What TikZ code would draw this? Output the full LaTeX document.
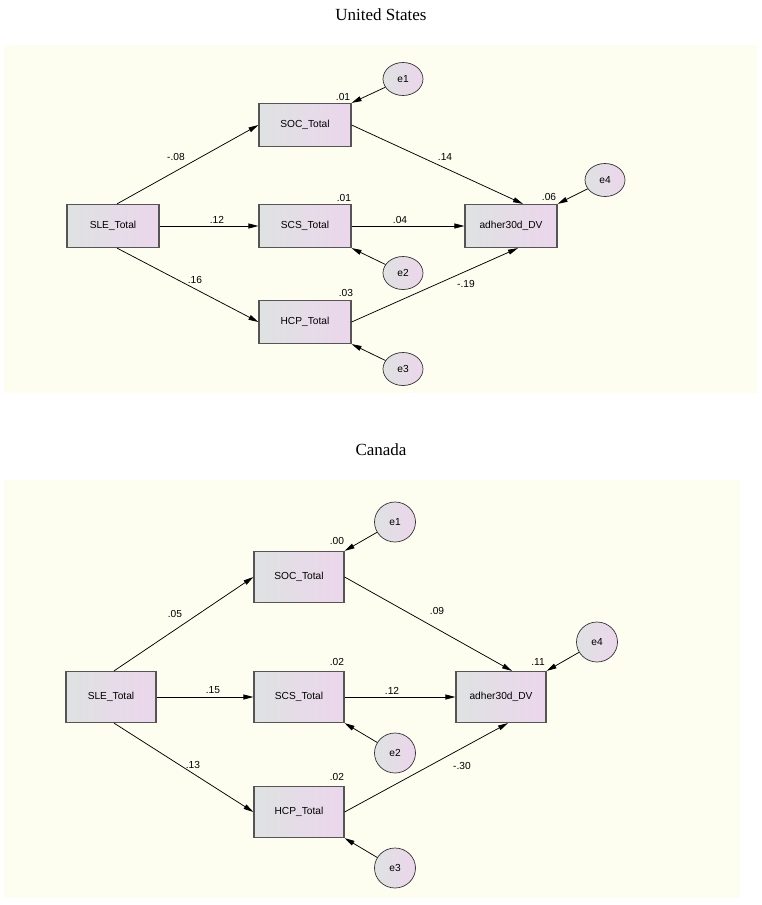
\documentclass[tikz,border=0pt]{standalone}
\usepackage{fontspec}
\setmainfont{Liberation Serif}
\newfontfamily\amosfont{Liberation Sans}
\definecolor{amosBg}{RGB}{254,254,240}
\definecolor{amosGrey}{RGB}{222,226,226}
\definecolor{amosPink}{RGB}{236,214,236}
\definecolor{amosEdge}{RGB}{85,85,85}
\usetikzlibrary{arrows.meta,shapes.geometric,calc}

\begin{document}
\begin{tikzpicture}[x=1pt, y=-1pt,
    obs/.style={rectangle, draw=amosEdge, line width=1.2pt, left color=amosGrey,
                right color=amosPink, font=\amosfont\fontsize{10.2}{12}\selectfont, inner sep=0pt},
    obsA/.style={obs, minimum width=92pt, minimum height=43pt},
    obsB/.style={obs, minimum width=90pt, minimum height=51pt},
    err/.style={ellipse, draw=black!80, line width=0.7pt, left color=amosGrey,
                right color=amosPink, font=\amosfont\fontsize{10.2}{12}\selectfont, inner sep=0pt},
    errA/.style={err, minimum width=40pt, minimum height=33pt},
    errB/.style={err, minimum width=41pt, minimum height=40pt},
    val/.style={font=\amosfont\fontsize{10.2}{12}\selectfont, inner sep=0pt},
    arr/.style={-{Triangle[length=10pt,width=5pt]}, line width=0.75pt},
    ttl/.style={font=\fontsize{17}{20}\selectfont, inner sep=0pt}
  ]
  \useasboundingbox (0,0) rectangle (762,905);
  \fill[amosBg] (4,45) rectangle (757,393);
  \fill[amosBg] (4,480) rectangle (740,898);

  % United States
  \node[ttl] (usTitle) at (381,15) {United States};
  \node[obsA] (usSle) at (113,226) {SLE\_Total};
  \node[obsA] (usSoc) at (305,125) {SOC\_Total};
  \node[obsA] (usScs) at (305,226) {SCS\_Total};
  \node[obsA] (usHcp) at (305,322) {HCP\_Total};
  \node[obsA] (usAdh) at (511,226) {adher30d\_DV};
  \node[errA] (usE1) at (403,79) {e1};
  \node[errA] (usE2) at (403,273) {e2};
  \node[errA] (usE3) at (403,369) {e3};
  \node[errA] (usE4) at (605,180) {e4};

  \draw[arr] ($(usSle.north)+(4,0)$) -- (usSoc.west);
  \draw[arr] (usSle.east) -- (usScs.west);
  \draw[arr] ($(usSle.south)+(4,0)$) -- (usHcp.west);
  \draw[arr] (usSoc.east) -- ($(usAdh.north)+(12,0)$);
  \draw[arr] (usScs.east) -- (usAdh.west);
  \draw[arr] (usHcp.east) -- ($(usAdh.south)+(7,0)$);
  \draw[arr] (usE1) -- (usSoc.north east);
  \draw[arr] (usE2) -- (usScs.south east);
  \draw[arr] (usE3) -- (usHcp.south east);
  \draw[arr] (usE4) -- (usAdh.north east);

  \node[val] (usR1) at (343,97) {.01};
  \node[val] (usR2) at (344,198) {.01};
  \node[val] (usR3) at (346,293) {.03};
  \node[val] (usR4) at (549,197) {.06};
  \node[val] (usB1) at (176,157) {-.08};
  \node[val] (usB2) at (217,220) {.12};
  \node[val] (usB3) at (195,280) {.16};
  \node[val] (usB4) at (445,157) {.14};
  \node[val] (usB5) at (400,220) {.04};
  \node[val] (usB6) at (466,284) {-.19};

  % Canada
  \node[ttl] (caTitle) at (381,450) {Canada};
  \node[obsB] (caSle) at (111,697) {SLE\_Total};
  \node[obsB] (caSoc) at (299,577) {SOC\_Total};
  \node[obsB] (caScs) at (299,697) {SCS\_Total};
  \node[obsB] (caHcp) at (299,812) {HCP\_Total};
  \node[obsB] (caAdh) at (501,697) {adher30d\_DV};
  \node[errB] (caE1) at (395,522) {e1};
  \node[errB] (caE2) at (395,753) {e2};
  \node[errB] (caE3) at (395,868) {e3};
  \node[errB] (caE4) at (597,642) {e4};

  \draw[arr] ($(caSle.north)+(3,0)$) -- (caSoc.west);
  \draw[arr] (caSle.east) -- (caScs.west);
  \draw[arr] ($(caSle.south)+(3,0)$) -- (caHcp.west);
  \draw[arr] (caSoc.east) -- ($(caAdh.north)+(11,0)$);
  \draw[arr] (caScs.east) -- (caAdh.west);
  \draw[arr] (caHcp.east) -- ($(caAdh.south)+(7,0)$);
  \draw[arr] (caE1) -- (caSoc.north east);
  \draw[arr] (caE2) -- (caScs.south east);
  \draw[arr] (caE3) -- (caHcp.south east);
  \draw[arr] (caE4) -- (caAdh.north east);

  \node[val] (caR1) at (337,541) {.00};
  \node[val] (caR2) at (337,662) {.02};
  \node[val] (caR3) at (337,777) {.02};
  \node[val] (caR4) at (538,662) {.11};
  \node[val] (caB1) at (175,614) {.05};
  \node[val] (caB2) at (213,690) {.15};
  \node[val] (caB3) at (193,765) {.13};
  \node[val] (caB4) at (437,611) {.09};
  \node[val] (caB5) at (392,691) {.12};
  \node[val] (caB6) at (462,766) {-.30};
\end{tikzpicture}
\end{document}
